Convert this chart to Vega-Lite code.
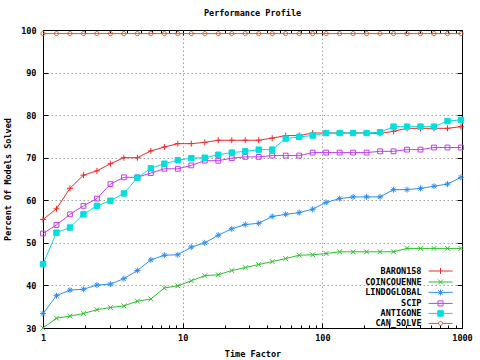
{
  "$schema": "https://vega.github.io/schema/vega-lite/v6.json",
  "autosize": {"type": "none"},
  "width": 419,
  "height": 298,
  "padding": {"left": 43, "top": 30, "right": 18, "bottom": 32},
  "background": "white",
  "title": {"text": "Performance Profile", "font": "DejaVu Sans Mono", "fontSize": 8.5, "fontWeight": "bold", "color": "black", "anchor": "middle", "offset": 9},
  "config": {
    "view": {"stroke": "black", "strokeWidth": 1},
    "axis": {"labelFont": "DejaVu Sans Mono", "labelFontSize": 8.5, "labelFontWeight": "bold", "labelColor": "black", "titleFont": "DejaVu Sans Mono", "titleFontSize": 8.5, "titleFontWeight": "bold", "titleColor": "black", "domain": false, "tickColor": "black", "tickWidth": 1}
  },
  "datasets": {
    "perf": [
      {"tf": 1, "BARON158": 55.5, "COINCOUENNE": 30.0, "LINDOGLOBAL": 33.4, "SCIP": 52.2, "ANTIGONE": 45.0, "CAN_SOLVE": 99.15},
      {"tf": 1.249, "BARON158": 58.0, "COINCOUENNE": 32.3, "LINDOGLOBAL": 37.6, "SCIP": 54.2, "ANTIGONE": 52.4, "CAN_SOLVE": 99.15},
      {"tf": 1.56, "BARON158": 62.8, "COINCOUENNE": 32.8, "LINDOGLOBAL": 38.9, "SCIP": 56.7, "ANTIGONE": 53.6, "CAN_SOLVE": 99.15},
      {"tf": 1.948, "BARON158": 65.9, "COINCOUENNE": 33.4, "LINDOGLOBAL": 39.1, "SCIP": 58.7, "ANTIGONE": 56.7, "CAN_SOLVE": 99.15},
      {"tf": 2.433, "BARON158": 66.9, "COINCOUENNE": 34.3, "LINDOGLOBAL": 40.1, "SCIP": 60.4, "ANTIGONE": 58.7, "CAN_SOLVE": 99.15},
      {"tf": 3.039, "BARON158": 68.6, "COINCOUENNE": 34.8, "LINDOGLOBAL": 40.3, "SCIP": 63.8, "ANTIGONE": 59.9, "CAN_SOLVE": 99.15},
      {"tf": 3.795, "BARON158": 70.0, "COINCOUENNE": 35.2, "LINDOGLOBAL": 41.6, "SCIP": 65.4, "ANTIGONE": 61.6, "CAN_SOLVE": 99.15},
      {"tf": 4.74, "BARON158": 70.0, "COINCOUENNE": 36.3, "LINDOGLOBAL": 43.5, "SCIP": 65.4, "ANTIGONE": 65.3, "CAN_SOLVE": 99.15},
      {"tf": 5.92, "BARON158": 71.6, "COINCOUENNE": 36.8, "LINDOGLOBAL": 46.0, "SCIP": 66.4, "ANTIGONE": 67.5, "CAN_SOLVE": 99.15},
      {"tf": 7.393, "BARON158": 72.5, "COINCOUENNE": 39.4, "LINDOGLOBAL": 47.1, "SCIP": 67.4, "ANTIGONE": 68.6, "CAN_SOLVE": 99.15},
      {"tf": 9.233, "BARON158": 73.3, "COINCOUENNE": 39.9, "LINDOGLOBAL": 47.2, "SCIP": 67.4, "ANTIGONE": 69.4, "CAN_SOLVE": 99.15},
      {"tf": 11.53, "BARON158": 73.3, "COINCOUENNE": 41.1, "LINDOGLOBAL": 49.0, "SCIP": 68.2, "ANTIGONE": 69.9, "CAN_SOLVE": 99.15},
      {"tf": 14.4, "BARON158": 73.6, "COINCOUENNE": 42.3, "LINDOGLOBAL": 50.0, "SCIP": 69.3, "ANTIGONE": 70.0, "CAN_SOLVE": 99.15},
      {"tf": 17.99, "BARON158": 74.1, "COINCOUENNE": 42.5, "LINDOGLOBAL": 51.8, "SCIP": 69.3, "ANTIGONE": 70.7, "CAN_SOLVE": 99.15},
      {"tf": 22.47, "BARON158": 74.1, "COINCOUENNE": 43.5, "LINDOGLOBAL": 53.3, "SCIP": 69.9, "ANTIGONE": 71.2, "CAN_SOLVE": 99.15},
      {"tf": 28.06, "BARON158": 74.1, "COINCOUENNE": 44.2, "LINDOGLOBAL": 54.3, "SCIP": 70.2, "ANTIGONE": 71.5, "CAN_SOLVE": 99.15},
      {"tf": 35.04, "BARON158": 74.1, "COINCOUENNE": 44.9, "LINDOGLOBAL": 54.6, "SCIP": 70.2, "ANTIGONE": 71.9, "CAN_SOLVE": 99.15},
      {"tf": 43.76, "BARON158": 74.6, "COINCOUENNE": 45.6, "LINDOGLOBAL": 56.2, "SCIP": 70.5, "ANTIGONE": 71.9, "CAN_SOLVE": 99.15},
      {"tf": 54.66, "BARON158": 75.2, "COINCOUENNE": 46.3, "LINDOGLOBAL": 56.7, "SCIP": 70.5, "ANTIGONE": 74.5, "CAN_SOLVE": 99.15},
      {"tf": 68.26, "BARON158": 75.2, "COINCOUENNE": 47.1, "LINDOGLOBAL": 57.1, "SCIP": 70.5, "ANTIGONE": 74.9, "CAN_SOLVE": 99.15},
      {"tf": 85.25, "BARON158": 75.8, "COINCOUENNE": 47.2, "LINDOGLOBAL": 57.9, "SCIP": 71.2, "ANTIGONE": 75.2, "CAN_SOLVE": 99.15},
      {"tf": 106.5, "BARON158": 75.8, "COINCOUENNE": 47.5, "LINDOGLOBAL": 59.5, "SCIP": 71.2, "ANTIGONE": 75.8, "CAN_SOLVE": 99.15},
      {"tf": 133.0, "BARON158": 75.8, "COINCOUENNE": 47.9, "LINDOGLOBAL": 60.4, "SCIP": 71.2, "ANTIGONE": 75.8, "CAN_SOLVE": 99.15},
      {"tf": 166.1, "BARON158": 75.8, "COINCOUENNE": 47.9, "LINDOGLOBAL": 60.8, "SCIP": 71.2, "ANTIGONE": 75.8, "CAN_SOLVE": 99.15},
      {"tf": 207.4, "BARON158": 75.8, "COINCOUENNE": 47.9, "LINDOGLOBAL": 60.8, "SCIP": 71.2, "ANTIGONE": 75.8, "CAN_SOLVE": 99.15},
      {"tf": 259.0, "BARON158": 75.7, "COINCOUENNE": 47.9, "LINDOGLOBAL": 60.8, "SCIP": 71.5, "ANTIGONE": 76.0, "CAN_SOLVE": 99.15},
      {"tf": 323.5, "BARON158": 76.2, "COINCOUENNE": 47.9, "LINDOGLOBAL": 62.5, "SCIP": 71.5, "ANTIGONE": 77.3, "CAN_SOLVE": 99.15},
      {"tf": 404.0, "BARON158": 76.9, "COINCOUENNE": 48.7, "LINDOGLOBAL": 62.5, "SCIP": 71.9, "ANTIGONE": 77.3, "CAN_SOLVE": 99.15},
      {"tf": 504.5, "BARON158": 76.9, "COINCOUENNE": 48.7, "LINDOGLOBAL": 62.8, "SCIP": 71.9, "ANTIGONE": 77.3, "CAN_SOLVE": 99.15},
      {"tf": 630.1, "BARON158": 76.9, "COINCOUENNE": 48.7, "LINDOGLOBAL": 63.3, "SCIP": 72.4, "ANTIGONE": 77.3, "CAN_SOLVE": 99.15},
      {"tf": 787.0, "BARON158": 76.9, "COINCOUENNE": 48.7, "LINDOGLOBAL": 63.8, "SCIP": 72.4, "ANTIGONE": 78.6, "CAN_SOLVE": 99.15},
      {"tf": 982.8, "BARON158": 77.3, "COINCOUENNE": 48.7, "LINDOGLOBAL": 65.4, "SCIP": 72.4, "ANTIGONE": 78.9, "CAN_SOLVE": 99.15}
    ]
  },
  "data": {"name": "perf"},
  "resolve": {"axis": {"x": "independent", "y": "independent"}},
  "layer": [
    {
      "transform": [
        {"fold": ["BARON158", "COINCOUENNE", "LINDOGLOBAL", "SCIP", "ANTIGONE", "CAN_SOLVE"], "as": ["solver", "pct"]}
      ],
      "mark": {"type": "line", "strokeWidth": 1, "clip": true},
      "encoding": {
        "x": {
          "field": "tf", "type": "quantitative",
          "scale": {"type": "log", "domain": [1, 1000], "nice": false},
          "axis": {
            "orient": "bottom",
            "values": [1, 2, 3, 4, 5, 6, 7, 8, 9, 10, 20, 30, 40, 50, 60, 70, 80, 90, 100, 200, 300, 400, 500, 600, 700, 800, 900, 1000],
            "format": "d",
            "labelExpr": "indexof([1,10,100,1000], datum.value) >= 0 ? datum.label : ''",
            "labelOverlap": false,
            "labelFlush": false,
            "labelPadding": 10,
            "tickSize": {"condition": {"test": "indexof([1,10,100,1000], datum.value) >= 0", "value": -5}, "value": -3},
            "grid": true,
            "gridColor": "#a0a0a0",
            "gridDash": [1.5, 2.5],
            "gridOpacity": {"condition": {"test": "datum.value == 10 || datum.value == 100", "value": 1}, "value": 0},
            "title": "Time Factor",
            "titlePadding": 6
          }
        },
        "y": {
          "field": "pct", "type": "quantitative",
          "scale": {"domain": [30, 100], "nice": false, "zero": false},
          "axis": {
            "orient": "left",
            "values": [30, 40, 50, 60, 70, 80, 90, 100],
            "tickSize": -5,
            "labelPadding": 12,
            "grid": true,
            "gridColor": "#a0a0a0",
            "gridDash": [1.5, 2.5],
            "gridOpacity": {"condition": {"test": "datum.value == 30 || datum.value == 100", "value": 0}, "value": 1},
            "title": "Percent Of Models Solved",
            "titlePadding": 8
          }
        },
        "color": {
          "field": "solver", "type": "nominal",
          "scale": {"domain": ["BARON158", "COINCOUENNE", "LINDOGLOBAL", "SCIP", "ANTIGONE", "CAN_SOLVE"], "range": ["#f02828", "#2cbf2c", "#2e8ef0", "#c03cf0", "#00dede", "#d05a22"]},
          "legend": {
            "orient": "none",
            "legendX": 392.5,
            "legendY": 236,
            "title": null,
            "padding": 0,
            "rowPadding": -0.6,
            "symbolSize": 81,
            "symbolStrokeWidth": 1,
            "labelAlign": "right",
            "labelOffset": -24,
            "labelFont": "DejaVu Sans Mono",
            "labelFontSize": 8.5,
            "labelFontWeight": "bold",
            "labelColor": "black",
            "encode": {
              "symbols": {
                "update": {
                  "shape": {"signal": "datum.value === 'BARON158' ? 'M-2.67,0L2.67,0M0,-0.67L0,0.67' : datum.value === 'COINCOUENNE' ? 'M-2.67,0L2.67,0M-0.56,-0.56L0.56,0.56M-0.56,0.56L0.56,-0.56' : datum.value === 'LINDOGLOBAL' ? 'M-2.67,0L2.67,0M0,-0.67L0,0.67M-0.5,-0.5L0.5,0.5M-0.5,0.5L0.5,-0.5' : datum.value === 'SCIP' ? 'M-2.67,0L2.67,0M-0.56,-0.56L0.56,-0.56L0.56,0.56L-0.56,0.56Z' : datum.value === 'ANTIGONE' ? 'M-2.67,0L2.67,0M-0.61,-0.61L0.61,-0.61L0.61,0.61L-0.61,0.61Z' : 'M-2.67,0L-0.44,0M0.44,0L2.67,0M0.44,0A0.44,0.44 0 1,1 -0.44,0A0.44,0.44 0 1,1 0.44,0Z'"},
                  "fill": {"signal": "datum.value === 'ANTIGONE' ? '#00dede' : 'transparent'"}
                }
              }
            }
          }
        }
      }
    },
    {
      "transform": [
        {"fold": ["BARON158", "COINCOUENNE", "LINDOGLOBAL", "SCIP", "ANTIGONE", "CAN_SOLVE"], "as": ["solver_pt", "pct_pt"]}
      ],
      "mark": {"type": "point", "filled": false, "size": 36, "strokeWidth": 1, "opacity": 1, "clip": false},
      "encoding": {
        "x": {
          "field": "tf", "type": "quantitative",
          "axis": {
            "orient": "top",
            "values": [1, 2, 3, 4, 5, 6, 7, 8, 9, 10, 20, 30, 40, 50, 60, 70, 80, 90, 100, 200, 300, 400, 500, 600, 700, 800, 900, 1000],
            "labels": false,
            "grid": false,
            "tickSize": {"condition": {"test": "indexof([1,10,100,1000], datum.value) >= 0", "value": -5}, "value": -3},
            "title": null
          }
        },
        "y": {
          "field": "pct_pt", "type": "quantitative",
          "axis": {"orient": "right", "values": [30, 40, 50, 60, 70, 80, 90, 100], "labels": false, "grid": false, "tickSize": -5, "title": null}
        },
        "stroke": {
          "field": "solver_pt", "type": "nominal",
          "scale": {"domain": ["CAN_SOLVE", "ANTIGONE", "SCIP", "LINDOGLOBAL", "COINCOUENNE", "BARON158"], "range": ["#d05a22", "#00dede", "#c03cf0", "#2e8ef0", "#2cbf2c", "#f02828"]},
          "legend": null
        },
        "fill": {
          "field": "solver_pt", "type": "nominal",
          "scale": {"domain": ["ANTIGONE", "CAN_SOLVE", "SCIP", "LINDOGLOBAL", "COINCOUENNE", "BARON158"], "range": ["#00dede", "transparent", "transparent", "transparent", "transparent", "transparent"]},
          "legend": null
        },
        "shape": {
          "field": "solver_pt", "type": "nominal",
          "scale": {"domain": ["SCIP", "BARON158", "COINCOUENNE", "LINDOGLOBAL", "ANTIGONE", "CAN_SOLVE"], "range": ["M-0.8,-0.8L0.8,-0.8L0.8,0.8L-0.8,0.8Z", "M-1,0L1,0M0,-1L0,1", "M-0.8,-0.8L0.8,0.8M-0.8,0.8L0.8,-0.8", "M-1,0L1,0M0,-1L0,1M-0.7,-0.7L0.7,0.7M-0.7,0.7L0.7,-0.7", "M-0.9,-0.9L0.9,-0.9L0.9,0.9L-0.9,0.9Z", "M0.7,0A0.7,0.7 0 1,1 -0.7,0A0.7,0.7 0 1,1 0.7,0Z"]},
          "legend": null
        }
      }
    }
  ]
}
